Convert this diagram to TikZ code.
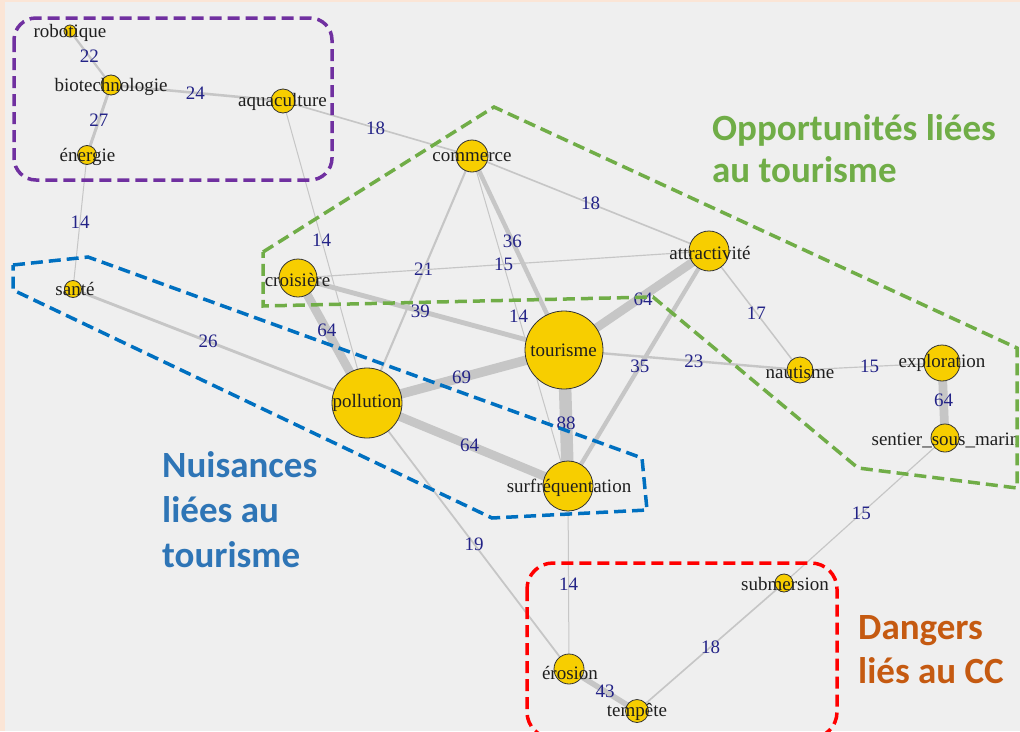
\documentclass[tikz,border=0pt]{standalone}
\usepackage{fontspec}
\setmainfont{Liberation Serif}
\newfontfamily\titlefont{Carlito}
\newfontfamily\serifl{Liberation Serif}
\pgfdeclarelayer{back}
\pgfdeclarelayer{edgelayer}
\pgfsetlayers{back,edgelayer,main}
\definecolor{peach}{HTML}{FBE5D6}
\definecolor{bgc}{HTML}{EFEFEF}
\definecolor{edgec}{HTML}{C6C6C6}
\definecolor{labc}{RGB}{35,35,135}
\definecolor{nodefill}{RGB}{247,206,0}
\definecolor{gr}{HTML}{70AD47}
\definecolor{bl}{HTML}{0070C0}
\definecolor{bltitle}{HTML}{2E75B6}
\definecolor{pu}{HTML}{7030A0}
\definecolor{rd}{HTML}{FF0000}
\definecolor{orng}{HTML}{C55A11}
\begin{document}
\begin{tikzpicture}[x=1pt,y=-1pt,
  vert/.style={circle,draw=black!80,line width=0.8pt,fill=nodefill,inner sep=0pt,minimum size=#1},
  vlab/.style={font=\serifl\fontsize{19}{19}\selectfont,text=black!88,inner sep=0pt},
  lnk/.style={draw=edgec,line width={1+(#1-14)*0.155}},
  elab/.style={font=\serifl\fontsize{19}{19}\selectfont,text=labc,inner sep=0pt},
  grp/.style={dashed,line width=3.5pt,dash pattern=on 12pt off 6pt},
  ttl/.style={font=\titlefont\bfseries\fontsize{37}{37}\selectfont,anchor=base west,inner sep=0pt}]
\clip (0,0) rectangle (1020,731);
\begin{pgfonlayer}{back}
\fill[peach] (0,0) rectangle (1020,731);
\fill[bgc] (5,2) rectangle (1020,731);
\end{pgfonlayer}
% vertices
\node[vert=12pt] (rob) at (70,31) {};
\node[vert=20pt] (bio) at (111,85) {};
\node[vert=24pt] (aqu) at (283,101) {};
\node[vert=19pt] (ene) at (87,155) {};
\node[vert=32pt] (com) at (472,156) {};
\node[vert=40pt] (att) at (709,251) {};
\node[vert=38pt] (cro) at (298,278) {};
\node[vert=17pt] (san) at (73,289) {};
\node[vert=78pt] (tou) at (564,350) {};
\node[vert=70pt] (pol) at (367,403) {};
\node[vert=26pt] (nau) at (800,370) {};
\node[vert=36pt] (exp) at (942,363) {};
\node[vert=28pt] (sen) at (945,438) {};
\node[vert=50pt] (sur) at (568,486) {};
\node[vert=18pt] (sub) at (784,583) {};
\node[vert=30pt] (ero) at (569,669) {};
\node[vert=23pt] (tem) at (637,711) {};
% vertex labels
\node[vlab] (robl) at (70,33) {robotique};
\node[vlab] (biol) at (111,87) {biotechnologie};
\node[vlab] (aqul) at (282.5,102) {aquaculture};
\node[vlab] (enel) at (87.5,157) {énergie};
\node[vlab] (coml) at (472,157) {commerce};
\node[vlab] (attl) at (710,253) {attractivité};
\node[vlab] (crol) at (297.5,280) {croisière};
\node[vlab] (sanl) at (75,289) {santé};
\node[vlab] (toul) at (563.5,350) {tourisme};
\node[vlab] (poll) at (367,403) {pollution};
\node[vlab] (naul) at (800,372) {nautisme};
\node[vlab] (expl) at (942,363) {exploration};
\node[vlab] (senl) at (945.5,440) {sentier\_sous\_marin};
\node[vlab] (surl) at (569,488) {surfréquentation};
\node[vlab] (subl) at (785,584) {submersion};
\node[vlab] (erol) at (570,673) {érosion};
\node[vlab] (teml) at (637,712) {tempête};
% edges
\begin{pgfonlayer}{edgelayer}
\draw[lnk=22] (rob.center) -- (bio.center) node[elab,pos=.47]{22};
\draw[lnk=24] (bio.center) -- (aqu.center) node[elab,pos=.49]{24};
\draw[lnk=27] (bio.center) -- (ene.center) node[elab,pos=.51]{27};
\draw[lnk=18] (aqu.center) -- (com.center) node[elab,pos=.49]{18};
\draw[lnk=14] (ene.center) -- (san.center) node[elab,pos=.5]{14};
\draw[lnk=14] (aqu.center) -- (pol.center) node[elab,pos=.46]{14};
\draw[lnk=18] (com.center) -- (att.center) node[elab,pos=.5]{18};
\draw[lnk=21] (com.center) -- (pol.center) node[elab,pos=.46]{21};
\draw[lnk=36] (com.center) -- (tou.center) node[elab,pos=.44]{36};
\draw[lnk=14] (com.center) -- (sur.center) node[elab,pos=.485]{14};
\draw[lnk=15] (cro.center) -- (att.center) node[elab,pos=.5]{15};
\draw[lnk=39] (cro.center) -- (tou.center) node[elab,pos=.46]{39};
\draw[lnk=64] (cro.center) -- (pol.center) node[elab,pos=.42]{64};
\draw[lnk=64] (tou.center) -- (att.center) node[elab,pos=.545,yshift=-3pt]{64};
\draw[lnk=35] (att.center) -- (sur.center) node[elab,pos=.49]{35};
\draw[lnk=17] (att.center) -- (nau.center) node[elab,pos=.52]{17};
\draw[lnk=23] (tou.center) -- (nau.center) node[elab,pos=.55]{23};
\draw[lnk=15] (nau.center) -- (exp.center) node[elab,pos=.49]{15};
\draw[lnk=64] (exp.center) -- (sen.center) node[elab,pos=.5]{64};
\draw[lnk=15] (sen.center) -- (sub.center) node[elab,pos=.52]{15};
\draw[lnk=26] (san.center) -- (pol.center) node[elab,pos=.46]{26};
\draw[lnk=69] (pol.center) -- (tou.center) node[elab,pos=.48]{69};
\draw[lnk=64] (pol.center) -- (sur.center) node[elab,pos=.51]{64};
\draw[lnk=88] (tou.center) -- (sur.center) node[elab,pos=.54]{88};
\draw[lnk=19] (pol.center) -- (ero.center) node[elab,pos=.53]{19};
\draw[lnk=14] (sur.center) -- (ero.center) node[elab,pos=.535]{14};
\draw[lnk=43] (ero.center) -- (tem.center) node[elab,pos=.53]{43};
\draw[lnk=18] (tem.center) -- (sub.center) node[elab,pos=.5]{18};
\end{pgfonlayer}
% groups
\draw[grp,pu,rounded corners=22pt] (14,18) rectangle (332,180);
\draw[grp,gr] (263,252) -- (494,107) -- (1017,348) -- (1017,488) -- (858,468) -- (653,297) -- (263,306) -- cycle;
\draw[grp,bl] (13,265) -- (88,257) -- (642,458) -- (647,510) -- (492,518) -- (13,290) -- cycle;
\draw[grp,rd,rounded corners=26pt] (527,563) rectangle (837,738);
% titles
\node[ttl,text=gr] (t1a) at (712,140) {Opportunités liées};
\node[ttl,text=gr] (t1b) at (712,182) {au tourisme};
\node[ttl,text=bltitle] (t2a) at (162,477) {Nuisances};
\node[ttl,text=bltitle] (t2b) at (162,522) {liées au};
\node[ttl,text=bltitle] (t2c) at (162,567) {tourisme};
\node[ttl,text=orng] (t3a) at (858,639) {Dangers};
\node[ttl,text=orng] (t3b) at (858,683) {liés au CC};
\end{tikzpicture}
\end{document}
